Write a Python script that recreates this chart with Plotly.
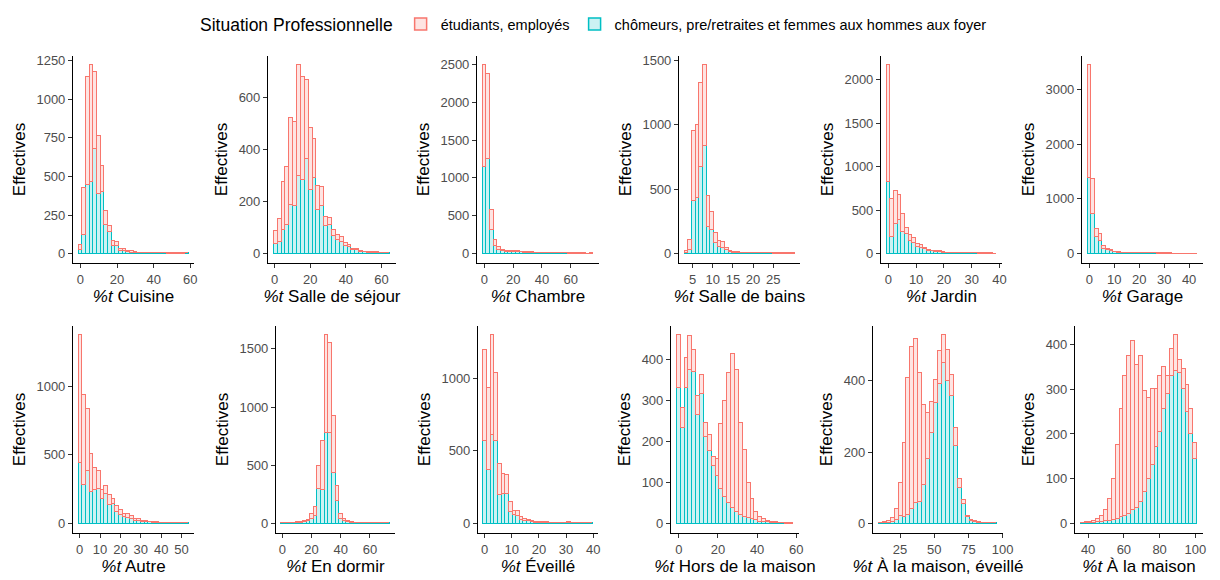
import plotly.graph_objects as go

# ---------------- data (counts per bin, 30 bins per panel) ----------------
series_names = ["étudiants, employés", "chômeurs, pre/retraites et femmes aux hommes aux foyer"]
panel_titles = ["Cuisine", "Salle de séjour", "Chambre", "Salle de bains", "Jardin", "Garage",
                "Autre", "En dormir", "Éveillé", "Hors de la maison", "À la maison, éveillé", "À la maison"]

# first bin centre and bin width for each panel (x in %)
bin_start = [0.0, 0.6, 0.0, 3.47, 0.0, 0.0, 0.3, 0.6, 0.23, 0.0, 11.0, 37.0]
bin_width = [2.0, 2.18, 2.57, 0.908, 1.32, 1.47, 1.8, 2.47, 1.34, 1.98, 2.88, 2.17]

cuisine_emp = [32,301,702,758,505,373,170,86,43,32,26,11,15,9,8,5,4,3,2,2,2,1,1,1,1,1,1,1,1,0]
cuisine_cho = [22,122,445,462,675,387,400,187,137,52,47,19,15,8,7,5,3,2,2,1,1,1,1,1,0,0,0,0,0,1]

sejour_emp = [48,87,183,222,333,322,423,397,302,240,152,93,73,36,25,26,19,18,11,9,4,5,3,3,2,2,2,1,1,1]
sejour_cho = [37,45,92,111,187,183,299,282,364,243,289,168,184,104,111,66,53,44,30,25,15,13,7,5,4,3,3,2,1,1]

chambre_emp = [1338,1131,254,79,35,22,18,15,15,12,10,8,8,7,6,5,4,3,3,2,3,2,1,2,1,1,1,1,0,1]
chambre_cho = [1149,1246,316,96,53,31,22,20,20,18,15,12,10,8,6,5,4,4,3,3,2,2,2,1,1,1,1,1,1,1]

bains_emp = [13,72,539,562,650,624,247,134,78,43,46,13,8,5,6,4,3,3,2,2,2,1,1,1,1,1,1,1,1,1]
bains_cho = [5,31,412,435,675,837,204,186,82,52,44,31,10,5,6,4,3,2,2,1,1,1,1,1,0,0,0,0,0,0]

jardin_emp = [1336,439,381,294,210,65,60,60,30,35,20,10,10,10,10,6,4,4,3,3,2,2,2,1,1,2,1,1,1,0]
jardin_cho = [828,187,344,382,244,225,150,120,80,65,50,30,25,15,15,12,8,6,5,4,4,3,2,2,2,1,1,1,1,1]

garage_emp = [2048,636,158,122,60,31,25,13,10,5,5,4,3,2,2,2,2,1,1,1,1,1,1,0,1,1,1,1,1,1]
garage_cho = [1388,721,297,236,85,60,45,22,15,10,7,6,5,4,3,3,2,2,2,1,1,1,1,1,0,0,0,0,0,0]

autre_emp = [929,652,447,280,167,128,65,58,67,36,44,32,22,29,19,12,12,8,8,4,4,3,2,2,2,1,1,1,1,1]
autre_cho = [440,283,384,227,241,251,181,217,138,145,82,65,48,41,34,22,18,12,10,8,6,5,4,3,2,2,2,1,1,1]

dormir_emp = [2,2,3,4,6,7,10,14,42,76,202,421,840,768,489,128,40,17,10,6,4,3,3,2,2,2,1,1,1,1]
dormir_cho = [1,2,2,4,6,8,15,20,43,63,296,290,774,780,433,191,43,26,10,6,4,3,2,2,1,1,1,1,1,1]

eveille_emp = [627,562,682,466,209,134,129,71,28,39,18,14,10,6,5,4,3,3,2,2,2,2,2,6,3,2,1,1,1,1]
eveille_cho = [566,368,611,566,198,205,205,77,61,50,27,18,15,9,7,6,5,5,4,4,3,3,2,6,3,2,2,2,1,1]

hors_emp = [129,49,75,83,53,45,46,35,39,22,42,157,234,318,376,347,225,163,86,48,20,10,6,3,2,2,1,1,1,1]
hors_cho = [330,232,330,374,370,266,316,211,176,140,115,85,66,50,38,28,20,17,14,12,8,5,4,3,2,1,1,1,0,0]

maison_ev_emp = [1,3,5,11,31,95,206,384,454,458,362,225,131,88,65,92,77,88,59,49,25,11,3,2,2,1,1,1,1,1]
maison_ev_cho = [1,2,3,5,10,20,19,25,41,58,60,107,180,253,337,392,450,398,357,218,100,56,19,8,4,3,2,1,1,1]

maison_emp = [1,2,3,4,7,14,25,49,92,165,241,312,353,378,320,327,225,180,170,130,125,95,40,60,80,30,45,60,55,35]
maison_cho = [1,1,1,2,3,4,5,6,8,10,14,18,22,30,35,48,70,100,130,170,205,255,290,330,340,335,300,250,200,145]

emp_counts = [cuisine_emp, sejour_emp, chambre_emp, bains_emp, jardin_emp, garage_emp,
              autre_emp, dormir_emp, eveille_emp, hors_emp, maison_ev_emp, maison_emp]
cho_counts = [cuisine_cho, sejour_cho, chambre_cho, bains_cho, jardin_cho, garage_cho,
              autre_cho, dormir_cho, eveille_cho, hors_cho, maison_ev_cho, maison_cho]

x_ticks = [[0, 20, 40, 60], [0, 20, 40, 60], [0, 20, 40, 60], [5, 10, 15, 20, 25],
           [0, 10, 20, 30, 40], [0, 10, 20, 30, 40], [0, 10, 20, 30, 40, 50], [0, 20, 40, 60],
           [0, 10, 20, 30, 40], [0, 20, 40, 60], [25, 50, 75, 100], [40, 60, 80, 100]]
y_dticks = [250, 200, 500, 500, 500, 1000, 500, 500, 500, 100, 200, 100]

# ---------------- layout geometry (page pixels) ----------------
OFF = 8                      # default page body margin
W, H = 1220 - OFF, 580 - OFF  # figure size so that it fills the window
x_px = [(73, 194), (268, 396), (477, 599), (679, 800), (881, 1002), (1082, 1203),
        (73, 194), (276, 395), (478, 598), (671, 799), (873, 1003), (1075, 1203)]
y_px = [(56, 263), (326, 533)]

RED = "#F8766D"
CYAN = "#00BFC4"
RED_FILL = "rgba(248,118,109,0.2)"
CYAN_FILL = "rgba(0,191,196,0.2)"
FONT = "Liberation Sans, Arial"

fig = go.Figure()
layout = {}
for i in range(12):
    n = len(emp_counts[i])
    centers = [bin_start[i] + k * bin_width[i] for k in range(n)]
    widths = [bin_width[i]] * n
    ax = "" if i == 0 else str(i + 1)
    # cyan series at the bottom of the stack
    fig.add_trace(go.Bar(
        x=centers, y=cho_counts[i], width=widths,
        marker=dict(color=CYAN_FILL, line=dict(color=CYAN, width=1.5)),
        name=series_names[1], legendgroup="cho", legendrank=2,
        showlegend=(i == 0), xaxis="x" + ax, yaxis="y" + ax))
    fig.add_trace(go.Bar(
        x=centers, y=emp_counts[i], width=widths,
        marker=dict(color=RED_FILL, line=dict(color=RED, width=1.5)),
        name=series_names[0], legendgroup="emp", legendrank=1,
        showlegend=(i == 0), xaxis="x" + ax, yaxis="y" + ax))

    lo = centers[0] - bin_width[i] / 2
    hi = centers[-1] + bin_width[i] / 2
    span = hi - lo
    ymax = max(a + b for a, b in zip(emp_counts[i], cho_counts[i]))
    row = 0 if i < 6 else 1
    x0, x1 = x_px[i]
    yt, yb = y_px[row]
    common = dict(showline=True, linecolor="black", linewidth=1.1, ticks="outside",
                  ticklen=4, tickwidth=1, tickcolor="#333333", showgrid=False, zeroline=False,
                  automargin=False,
                  tickfont=dict(size=13, color="#4D4D4D", family=FONT))
    layout["xaxis" + ax] = dict(
        domain=[(x0 - OFF) / W, (x1 - OFF) / W], anchor="y" + ax,
        range=[lo - 0.05 * span, hi + 0.05 * span],
        tickmode="array", tickvals=x_ticks[i],
        title=dict(text="<i>%t</i> " + panel_titles[i], standoff=3,
                   font=dict(size=17, color="black", family=FONT)),
        **common)
    layout["yaxis" + ax] = dict(
        domain=[1 - (yb - OFF) / H, 1 - (yt - OFF) / H], anchor="x" + ax,
        range=[-0.05 * ymax, 1.05 * ymax], dtick=y_dticks[i], tick0=0,
        title=dict(text="Effectives", standoff=6,
                   font=dict(size=17, color="black", family=FONT)),
        **common)

fig.update_layout(
    **layout,
    template="none",
    barmode="stack", bargap=0,
    width=W, height=H,
    margin=dict(l=0, r=0, t=0, b=0, autoexpand=False),
    paper_bgcolor="white", plot_bgcolor="white",
    font=dict(family=FONT, color="black"),
    showlegend=True,
    legend=dict(orientation="h", x=(198 - OFF) / W, y=1.0, xanchor="left", yanchor="top",
                title=dict(text="Situation Professionnelle", font=dict(size=17.5)),
                font=dict(size=14.5), traceorder="normal"),
)

fig.write_html("out.html")
